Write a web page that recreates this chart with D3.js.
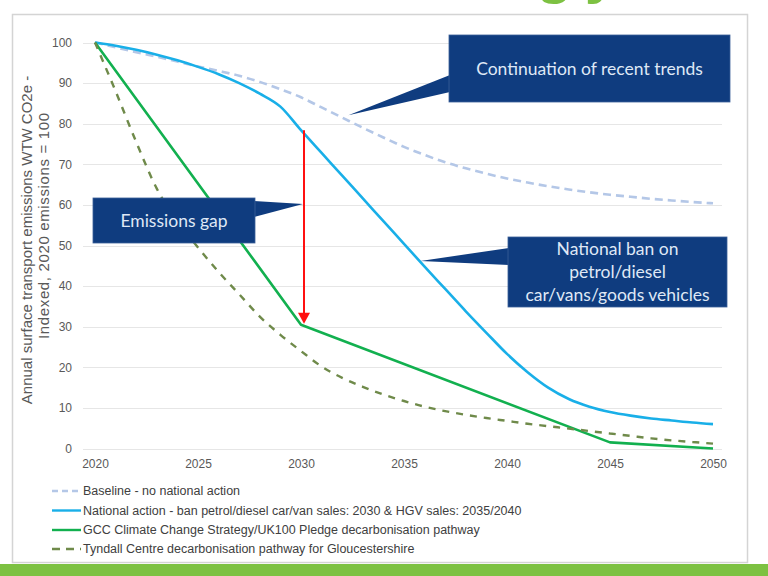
<!DOCTYPE html>
<html><head><meta charset="utf-8">
<script src="https://cdn.jsdelivr.net/npm/d3@7/dist/d3.min.js"></script>
<style>html,body{margin:0;padding:0;background:#fff;} svg{display:block;}</style>
</head><body>
<svg id="chart" width="768" height="576"></svg>
<script>
// ---------- DATA ----------
const years = [2020,2021,2022,2023,2024,2025,2026,2027,2028,2029,2030,2031,2032,2033,2034,2035,
               2036,2037,2038,2039,2040,2041,2042,2043,2044,2045,2046,2047,2048,2049,2050];
const baseline = [100,98.8,97.6,96.5,95.3,94.1,93,91.8,90.3,88.5,86.5,84,81.5,79,76.6,74.3,
                  72.3,70.5,69,67.7,66.5,65.5,64.6,63.8,63.1,62.5,62,61.5,61.1,60.7,60.4];
const national = [100,99.2,98.2,97,95.6,94,92.2,90,87.4,84.2,78.4,72.8,67.2,61.6,56,50.4,
                  44.8,39.3,33.8,28.5,23.3,18.8,15,12.2,10.3,9,8.1,7.4,6.9,6.4,6];
const gccYears = [2020,2030,2045,2050];
const gcc = [100,30.5,1.5,0];
const tyndall = [100,88,75.5,64,56,49.5,43.5,38,32.5,28,24,20.2,17.4,15.2,13.3,11.7,
                 10.3,9.2,8.3,7.5,6.8,6.1,5.5,4.9,4.3,3.7,3.1,2.5,2.0,1.6,1.2];
const xTicks = [2020,2025,2030,2035,2040,2045,2050];
const yTicks = [0,10,20,30,40,50,60,70,80,90,100];
const legendLabels = [
  "Baseline - no national action",
  "National action - ban petrol/diesel car/van sales: 2030 & HGV sales: 2035/2040",
  "GCC Climate Change Strategy/UK100 Pledge decarbonisation pathway",
  "Tyndall Centre decarbonisation pathway for Gloucestershire"
];
const yTitle = ["Annual surface transport emissions WTW CO2e -", "Indexed, 2020 emissions = 100"];
const callouts = {
  trends: ["Continuation of recent trends"],
  gap: ["Emissions gap"],
  ban: ["National ban on", "petrol/diesel", "car/vans/goods vehicles"]
};

// ---------- STYLE ----------
const C = {
  baseline: "#b4c7e7", national: "#19afe8", gcc: "#12b04f", tyndall: "#6f8a4a",
  grid: "#e6e6e6", text: "#595959", box: "#0f3c7f", boxText: "#dfe8f6", red: "#ff1010"
};
const series = [
  {vals: baseline, xs: years, color: C.baseline, dash: "8,5", w: 2.6, curve: d3.curveMonotoneX},
  {vals: national, xs: years, color: C.national, dash: null, w: 2.6, curve: d3.curveMonotoneX},
  {vals: gcc, xs: gccYears, color: C.gcc, dash: null, w: 2.6, curve: d3.curveLinear},
  {vals: tyndall, xs: years, color: C.tyndall, dash: "7,7", w: 2.4, curve: d3.curveMonotoneX}
];

const svg = d3.select("#chart");
const x = d3.scaleLinear().domain([2020, 2050]).range([95, 713]);
const y = d3.scaleLinear().domain([0, 100]).range([448.5, 42.5]);

// top title fragment (cut off by the slide edge)
svg.append("text").attr("x", 536).attr("y", -8).attr("font-family", "Liberation Sans, Arial")
  .attr("font-weight", "bold").attr("font-size", 60).attr("letter-spacing", 12)
  .attr("fill", "#7dc142").text("gy");

// chart border
svg.append("rect").attr("x", 12.5).attr("y", 14.5).attr("width", 735).attr("height", 548)
  .attr("fill", "#fff").attr("stroke", "#d4d4d4").attr("stroke-width", 1.5);

// bottom green bar
svg.append("rect").attr("x", 0).attr("y", 564).attr("width", 768).attr("height", 12).attr("fill", "#7dc142");

// gridlines
svg.append("g").selectAll("line").data(yTicks).join("line")
  .attr("x1", 83).attr("x2", 722).attr("y1", d => Math.round(y(d)) + 0.5).attr("y2", d => Math.round(y(d)) + 0.5)
  .attr("stroke", C.grid).attr("stroke-width", 1);

// y axis labels
const yAxis = d3.axisLeft(y).tickValues(yTicks).tickSize(0).tickPadding(0);
const gy = svg.append("g").attr("transform", "translate(72,0)").call(yAxis);
gy.select(".domain").remove();
gy.selectAll("text").attr("font-family", "Liberation Sans, Arial").attr("font-size", 12).attr("fill", C.text);

// x axis labels
const xAxis = d3.axisBottom(x).tickValues(xTicks).tickSize(0).tickPadding(0).tickFormat(d3.format("d"));
const gx = svg.append("g").attr("transform", "translate(0,459)").call(xAxis);
gx.select(".domain").remove();
gx.selectAll("text").attr("font-family", "Liberation Sans, Arial").attr("font-size", 12).attr("fill", C.text);

// y title
svg.append("text").attr("transform", "translate(32,240) rotate(-90)").attr("text-anchor", "middle")
  .attr("font-family", "Liberation Sans, Arial").attr("font-size", 15).attr("fill", C.text).text(yTitle[0]);
svg.append("text").attr("transform", "translate(48.5,226) rotate(-90)").attr("text-anchor", "middle")
  .attr("font-family", "Liberation Sans, Arial").attr("font-size", 15).attr("fill", C.text)
  .attr("textLength", 226).attr("lengthAdjust", "spacing").text(yTitle[1]);

// series lines
series.forEach(s => {
  const line = d3.line().x(d => x(d[0])).y(d => y(d[1])).curve(s.curve);
  svg.append("path").datum(s.xs.map((yr, i) => [yr, s.vals[i]]))
    .attr("d", line).attr("fill", "none").attr("stroke", s.color).attr("stroke-width", s.w)
    .attr("stroke-dasharray", s.dash).attr("stroke-linejoin", "round");
});

// red arrow: national 2030 -> gcc 2030
const ax = x(2030) + 3;
const yTop = y(national[years.indexOf(2030)]);
const yTip = y(gcc[gccYears.indexOf(2030)]) - 1;
svg.append("line").attr("x1", ax).attr("x2", ax).attr("y1", yTop).attr("y2", yTip - 9)
  .attr("stroke", C.red).attr("stroke-width", 2);
svg.append("path").attr("d", `M${ax-6},${yTip-11}L${ax+6},${yTip-11}L${ax},${yTip}Z`).attr("fill", C.red);

// callouts
function callout(box, tip, base, lines, lh, fs) {
  const g = svg.append("g");
  g.append("path").attr("d", `M${base[0][0]},${base[0][1]}L${tip[0]},${tip[1]}L${base[1][0]},${base[1][1]}Z`)
    .attr("fill", C.box);
  g.append("rect").attr("x", box[0]).attr("y", box[1]).attr("width", box[2]).attr("height", box[3])
    .attr("fill", C.box).attr("stroke", "#3a5f98").attr("stroke-width", 0.8);
  const cx = box[0] + box[2] / 2, cy = box[1] + box[3] / 2;
  lines.forEach((t, i) => {
    g.append("text").attr("x", cx).attr("y", cy + (i - (lines.length - 1) / 2) * lh)
      .attr("dy", "0.35em").attr("text-anchor", "middle").attr("font-family", "Lato, 'Open Sans', sans-serif")
      .attr("font-size", fs).attr("fill", C.boxText).text(t);
  });
}
callout([449, 35, 281, 67], [x(2032.3), y(82.1)], [[450, 75], [450, 92]], callouts.trends, 0, 17.5);
callout([93, 198, 162, 45], [x(2030) + 2, 204], [[254, 201], [254, 217]], callouts.gap, 0, 17.5);
callout([508, 237, 219, 70], [x(2035.8), y(46.2)], [[509, 248], [509, 265]], callouts.ban, 23.3, 17.5);

// legend
const lg = svg.append("g");
const rowY = [491, 510.5, 530, 549];
series.forEach((s, i) => {
  lg.append("line").attr("x1", 52).attr("x2", 81).attr("y1", rowY[i]).attr("y2", rowY[i])
    .attr("stroke", s.color).attr("stroke-width", 2.4).attr("stroke-dasharray", s.dash ? (i === 0 ? "6,4" : "8,6") : null);
  lg.append("text").attr("x", 83).attr("y", rowY[i]).attr("dy", "0.35em")
    .attr("font-family", "Liberation Sans, Arial").attr("font-size", 12.5).attr("fill", "#404040").text(legendLabels[i]);
});
</script>
</body></html>
